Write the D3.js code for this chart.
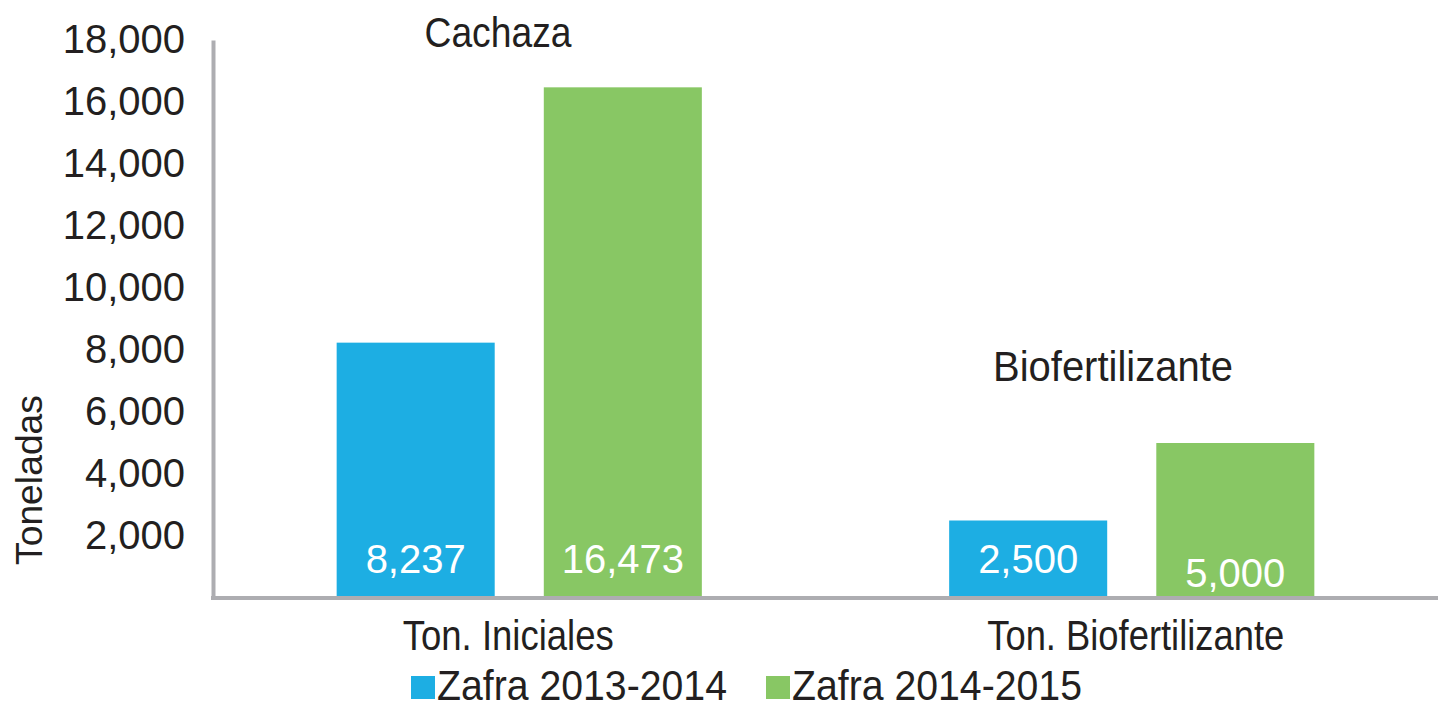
<!DOCTYPE html>
<html>
<head>
<meta charset="utf-8">
<script src="https://cdn.jsdelivr.net/npm/d3@7"></script>
<style>
  body { margin: 0; background: #fff; }
  svg { display: block; }
</style>
</head>
<body>
<svg id="chart" width="1442" height="704"></svg>
<script>
// Cachaza / Biofertilizante – Toneladas por zafra
const categories = ["Ton. Iniciales", "Ton. Biofertilizante"];
const seriesNames = ["Zafra 2013-2014", "Zafra 2014-2015"];
const zafra1314 = [8237, 2500];
const zafra1415 = [16473, 5000];
const yTicks = [2000, 4000, 6000, 8000, 10000, 12000, 14000, 16000, 18000];
const annotations = ["Cachaza", "Biofertilizante"];

const colors = ["#1daee3", "#88c764"];
const axisGray = "#adadb1";
const textColor = "#231f20";
const narrow = "'Liberation Sans Narrow', 'Arial Narrow', 'Liberation Sans', sans-serif";
const regular = "'Liberation Sans', Arial, sans-serif";

const svg = d3.select("#chart");

const rows = categories.map((c, i) => ({
  category: c,
  values: [zafra1314[i], zafra1415[i]]
}));

const x0 = d3.scaleBand()
  .domain(categories)
  .range([213, 1438]);

const x1 = d3.scaleBand()
  .domain(seriesNames)
  .range([0, x0.bandwidth()])
  .paddingInner(0.237)
  .paddingOuter(0.597);

const y = d3.scaleLinear()
  .domain([0, 18000])
  .range([598, 40]);

// Balken
const groups = svg.selectAll(".group")
  .data(rows)
  .enter()
  .append("g")
    .attr("class", "group")
    .attr("transform", d => `translate(${x0(d.category)},0)`);

groups.selectAll("rect")
  .data(d => d.values.map((v, i) => ({ series: seriesNames[i], value: v, idx: i })))
  .enter()
  .append("rect")
    .attr("x", d => x1(d.series))
    .attr("y", d => y(d.value))
    .attr("width", x1.bandwidth())
    .attr("height", d => y(0) - y(d.value))
    .attr("fill", d => colors[d.idx]);

// Wertbeschriftungen unten im Balken (5,000 sitzt im Original etwas tiefer)
groups.each(function(row, ci) {
  d3.select(this).selectAll(".val")
    .data(row.values.map((v, i) => ({ series: seriesNames[i], value: v, idx: i })))
    .enter()
    .append("text")
      .attr("class", "val")
      .attr("x", d => x1(d.series) + x1.bandwidth() / 2)
      .attr("y", d => (ci === 1 && d.idx === 1) ? 587 : 573)
      .attr("text-anchor", "middle")
      .attr("fill", "#fff")
      .attr("font-family", regular)
      .attr("font-size", 40)
      .text(d => d3.format(",")(d.value));
});

// Y-Achse
const yAxis = svg.append("g")
  .attr("transform", "translate(213,0)")
  .call(d3.axisLeft(y).tickValues(yTicks).tickFormat(d3.format(",")).tickSize(0).tickPadding(28));

yAxis.select(".domain")
  .attr("stroke", axisGray)
  .attr("stroke-width", 4);

yAxis.selectAll("text")
  .attr("fill", textColor)
  .attr("font-family", regular)
  .attr("font-size", 40);

// X-Achse
const xAxis = svg.append("g")
  .attr("transform", "translate(0,598)")
  .call(d3.axisBottom(x0).tickSize(0).tickSizeOuter(0).tickFormat(""));

xAxis.select(".domain")
  .attr("stroke", axisGray)
  .attr("stroke-width", 4)
  .attr("d", "M211,0H1438");

// Kategorien (Beschriftungen im Original leicht versetzt)
const catShift = [-11, 4];
const catWidth = [211, 297];
svg.selectAll(".cat")
  .data(categories)
  .enter()
  .append("text")
    .attr("class", "cat")
    .attr("x", (d, i) => x0(d) + x0.bandwidth() / 2 + catShift[i])
    .attr("y", 650)
    .attr("text-anchor", "middle")
    .attr("fill", textColor)
    .attr("font-family", narrow)
    .attr("font-size", 42)
    .attr("textLength", (d, i) => catWidth[i])
    .attr("lengthAdjust", "spacingAndGlyphs")
    .text(d => d);

// Annotationen
const annPos = [{ x: 498, y: 47, w: 147 }, { x: 1113, y: 381, w: 240 }];
svg.selectAll(".ann")
  .data(annotations)
  .enter()
  .append("text")
    .attr("class", "ann")
    .attr("x", (d, i) => annPos[i].x)
    .attr("y", (d, i) => annPos[i].y)
    .attr("text-anchor", "middle")
    .attr("fill", textColor)
    .attr("font-family", narrow)
    .attr("font-size", 43)
    .attr("textLength", (d, i) => annPos[i].w)
    .attr("lengthAdjust", "spacingAndGlyphs")
    .text(d => d);

// Achsentitel
svg.append("text")
  .attr("transform", "translate(42,480) rotate(-90)")
  .attr("text-anchor", "middle")
  .attr("fill", textColor)
  .attr("font-family", regular)
  .attr("font-size", 37)
  .attr("textLength", 170)
  .attr("lengthAdjust", "spacingAndGlyphs")
  .text("Toneladas");

// Legende
const legendX = [411, 766];
const legend = svg.selectAll(".legend")
  .data(seriesNames)
  .enter()
  .append("g")
    .attr("class", "legend")
    .attr("transform", (d, i) => `translate(${legendX[i]},0)`);

legend.append("rect")
  .attr("x", 0)
  .attr("y", 676)
  .attr("width", 24)
  .attr("height", 23)
  .attr("fill", (d, i) => colors[i]);

legend.append("text")
  .attr("x", 26)
  .attr("y", 700)
  .attr("fill", textColor)
  .attr("font-family", narrow)
  .attr("font-size", 42)
  .attr("textLength", 290)
  .attr("lengthAdjust", "spacingAndGlyphs")
  .text(d => d);
</script>
</body>
</html>
